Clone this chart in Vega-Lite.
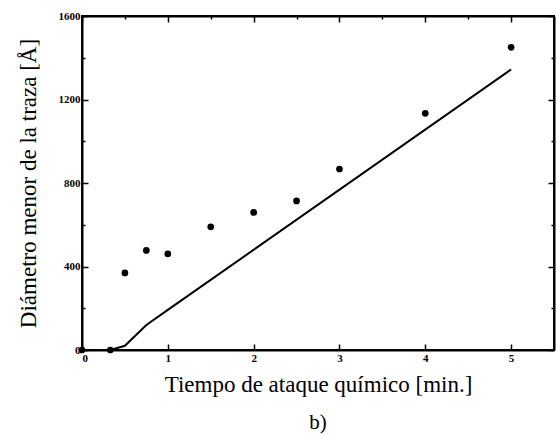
{
  "$schema": "https://vega.github.io/schema/vega-lite/v6.json",
  "width": 472,
  "height": 334,
  "autosize": {"type": "none"},
  "padding": {"left": 82, "top": 16, "right": 2, "bottom": 85},
  "background": "white",
  "view": {"stroke": "black", "strokeWidth": 2},
  "title": {"text": "b)", "orient": "bottom", "font": "Liberation Serif", "fontSize": 21, "fontWeight": "normal", "color": "black", "offset": 16},
  "config": {
    "axis": {"domainColor": "black", "domainWidth": 2, "tickColor": "black", "tickWidth": 1.5, "labelColor": "black", "labelFont": "Liberation Serif", "labelFontSize": 11, "labelFontWeight": "bold", "titleFont": "Liberation Serif", "titleFontWeight": "normal", "titleColor": "black", "grid": false}
  },
  "datasets": {
    "points": [
      {"t": 0, "d": 0},
      {"t": 0.33, "d": 0},
      {"t": 0.5, "d": 369},
      {"t": 0.75, "d": 477},
      {"t": 1.0, "d": 460},
      {"t": 1.5, "d": 590},
      {"t": 2.0, "d": 659},
      {"t": 2.5, "d": 714},
      {"t": 3.0, "d": 867},
      {"t": 4.0, "d": 1134},
      {"t": 5.0, "d": 1450}
    ],
    "line": [
      {"t": 0, "d": 0},
      {"t": 0.33, "d": 0},
      {"t": 0.5, "d": 20},
      {"t": 0.75, "d": 120},
      {"t": 1.0, "d": 192},
      {"t": 5.0, "d": 1344}
    ]
  },
  "resolve": {"axis": {"x": "independent", "y": "independent"}},
  "layer": [
    {
      "data": {"name": "line"},
      "mark": {"type": "line", "color": "black", "strokeWidth": 2},
      "encoding": {
        "x": {"field": "t", "type": "quantitative", "scale": {"domain": [0, 5.5], "nice": false},
          "axis": {"orient": "bottom", "title": "Tiempo de ataque químico [min.]", "titleFontSize": 23, "titlePadding": 10,
            "values": [0, 0.5, 1, 1.5, 2, 2.5, 3, 3.5, 4, 4.5, 5], "format": "d", "labelExpr": "datum.value % 1 == 0 ? datum.label : ''",
            "tickSize": {"condition": {"test": "datum.value % 1 == 0", "value": -6}, "value": -3}, "labelPadding": 8}},
        "y": {"field": "d", "type": "quantitative", "scale": {"domain": [0, 1600], "nice": false},
          "axis": {"orient": "left", "title": "Diámetro menor de la traza [Å]", "titleFontSize": 23, "titlePadding": 18,
            "values": [0, 200, 400, 600, 800, 1000, 1200, 1400, 1600], "labelExpr": "datum.value % 400 == 0 ? datum.label : ''", "format": "d",
            "tickSize": {"condition": {"test": "datum.value % 400 == 0", "value": -6}, "value": -3}, "labelPadding": 8}}
      }
    },
    {
      "data": {"name": "points"},
      "mark": {"type": "point", "filled": true, "color": "black", "opacity": 1, "size": 45},
      "encoding": {
        "x": {"field": "t", "type": "quantitative",
          "axis": {"orient": "top", "title": null, "labels": false,
            "values": [0, 0.5, 1, 1.5, 2, 2.5, 3, 3.5, 4, 4.5, 5],
            "tickSize": {"condition": {"test": "datum.value % 1 == 0", "value": -6}, "value": -3}}},
        "y": {"field": "d", "type": "quantitative",
          "axis": {"orient": "right", "title": null, "labels": false,
            "values": [0, 200, 400, 600, 800, 1000, 1200, 1400, 1600],
            "tickSize": {"condition": {"test": "datum.value % 400 == 0", "value": -6}, "value": -3}}}
      }
    }
  ]
}
